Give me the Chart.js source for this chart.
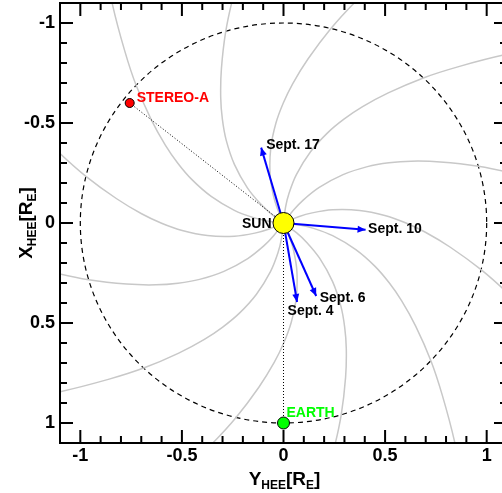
<!DOCTYPE html>
<html>
<head>
<meta charset="utf-8">
<script src="https://cdn.jsdelivr.net/npm/chart.js@4.4.0/dist/chart.umd.min.js"></script>
<style>
html, body { margin: 0; padding: 0; overflow: hidden; background: #fff; }
#wrap { width: 510px; height: 493px; }
</style>
</head>
<body>
<div id="wrap"><canvas id="myChart" width="510" height="493"></canvas></div>
<script>
// positions in AU, HEE frame: first value is Y_HEE (horizontal), second is X_HEE (vertical, reversed)
const sunPos = [0, 0];
const earthPos = [0, 1];
const stereoPos = [-0.757, -0.6];
const orbitRadius = 1;

// CME directions
const arrowLabels = ['Sept. 17', 'Sept. 10', 'Sept. 6', 'Sept. 4'];
const arrowTipY = [-0.11, 0.404, 0.161, 0.067];
const arrowTipX = [-0.377, 0.034, 0.365, 0.395];

// spiral field lines: angle (deg, counter-clockwise from +Y, screen up) where each crosses 1 AU
const spiralAngles = [16.5, 46.5, 76.5, 106.5, 136.5, 166.5, 196.5, 226.5, 256.5, 286.5, 316.5, 346.5];
// shape of one line: radius and its angle ahead of the 1 AU angle (deg)
const spiralR = [0, 0.08, 0.15, 0.25, 0.38, 0.5, 0.6, 0.7, 0.83, 1.0, 1.16, 1.38, 1.6];
const spiralLag = [39.7, 36.2, 33.2, 28.8, 23, 17.8, 13.6, 9.7, 5.1, 0, -4.2, -8.9, -12.9];

const xTicks = [-1, -0.5, 0, 0.5, 1];
const yTicks = [-1, -0.5, 0, 0.5, 1];

const labelFont = 'bold 14px "Liberation Sans", Arial, sans-serif';

function spiralPoints(a0) {
    let pts = [];
    for (let i = 0; i < spiralR.length; i++) {
        let th = (a0 + spiralLag[i]) * Math.PI / 180;
        pts.push({ x: spiralR[i] * Math.cos(th), y: -spiralR[i] * Math.sin(th) });
    }
    return pts;
}

let datasets = [];
datasets.push({ data: [{ x: sunPos[0], y: sunPos[1] }], pointRadius: 10.5, backgroundColor: '#ffff00', borderColor: '#000', borderWidth: 1 });
datasets.push({ data: [{ x: earthPos[0], y: earthPos[1] }], pointRadius: 6, backgroundColor: '#00ff00', borderColor: '#000', borderWidth: 1 });
datasets.push({ data: [{ x: stereoPos[0], y: stereoPos[1] }], pointRadius: 4.5, backgroundColor: '#ff0000', borderColor: '#000', borderWidth: 1 });
const firstArrow = datasets.length;
for (let i = 0; i < arrowLabels.length; i++) {
    datasets.push({
        data: [{ x: sunPos[0], y: sunPos[1] }, { x: arrowTipY[i], y: arrowTipX[i] }],
        showLine: true, borderColor: '#0000ff', borderWidth: 2, pointRadius: 0
    });
}
datasets.push({
    data: [{ x: stereoPos[0], y: stereoPos[1] }, { x: sunPos[0], y: sunPos[1] }],
    showLine: true, borderColor: '#000', borderWidth: 1, borderDash: [1, 2], pointRadius: 0
});
datasets.push({
    data: [{ x: sunPos[0], y: sunPos[1] }, { x: earthPos[0], y: earthPos[1] }],
    showLine: true, borderColor: '#000', borderWidth: 1, borderDash: [1, 2], pointRadius: 0
});
for (let a of spiralAngles) {
    datasets.push({
        data: spiralPoints(a), showLine: true, tension: 0.35,
        borderColor: '#c8c8c8', borderWidth: 1.5, pointRadius: 0
    });
}

function drawParts(ctx, parts, x0, yBase, mainSize, subSize, subDrop) {
    let w = 0;
    for (let p of parts) {
        ctx.font = 'bold ' + (p[1] ? subSize : mainSize) + 'px "Liberation Sans", Arial, sans-serif';
        w += ctx.measureText(p[0]).width;
    }
    let x = x0 - w / 2;
    for (let p of parts) {
        ctx.font = 'bold ' + (p[1] ? subSize : mainSize) + 'px "Liberation Sans", Arial, sans-serif';
        ctx.fillText(p[0], x, yBase + (p[1] ? subDrop : 0));
        x += ctx.measureText(p[0]).width;
    }
}

const decorPlugin = {
    id: 'decor',
    beforeDatasetsDraw(chart) {
        const { ctx, chartArea, scales: { x, y } } = chart;
        ctx.save();
        ctx.beginPath();
        ctx.rect(chartArea.left, chartArea.top, chartArea.width, chartArea.height);
        ctx.clip();
        let cx = x.getPixelForValue(sunPos[0]);
        let cy = y.getPixelForValue(sunPos[1]);
        let rx = Math.abs(x.getPixelForValue(orbitRadius) - cx);
        let ry = Math.abs(y.getPixelForValue(orbitRadius) - cy);
        ctx.setLineDash([5, 4]);
        ctx.lineWidth = 1.2;
        ctx.strokeStyle = '#000';
        ctx.beginPath();
        ctx.ellipse(cx, cy, rx, ry, 0, 0, Math.PI * 2);
        ctx.stroke();
        ctx.restore();
    },
    afterDatasetsDraw(chart) {
        const { ctx, scales: { x, y } } = chart;
        ctx.save();
        // arrow heads
        ctx.fillStyle = '#0000ff';
        for (let i = 0; i < arrowLabels.length; i++) {
            let meta = chart.getDatasetMeta(firstArrow + i);
            let p0 = meta.data[0], p1 = meta.data[1];
            let ang = Math.atan2(p1.y - p0.y, p1.x - p0.x);
            let len = 8, hw = 3.5;
            ctx.beginPath();
            ctx.moveTo(p1.x, p1.y);
            ctx.lineTo(p1.x - len * Math.cos(ang) - hw * Math.sin(ang), p1.y - len * Math.sin(ang) + hw * Math.cos(ang));
            ctx.lineTo(p1.x - len * Math.cos(ang) + hw * Math.sin(ang), p1.y - len * Math.sin(ang) - hw * Math.cos(ang));
            ctx.closePath();
            ctx.fill();
        }
        // labels
        ctx.font = labelFont;
        ctx.textBaseline = 'middle';
        const offsets = [[5, -2], [2.5, -1], [3.5, 2.5], [-9.5, 9.5]];
        ctx.fillStyle = '#000';
        ctx.textAlign = 'left';
        for (let i = 0; i < arrowLabels.length; i++) {
            ctx.fillText(arrowLabels[i], x.getPixelForValue(arrowTipY[i]) + offsets[i][0], y.getPixelForValue(arrowTipX[i]) + offsets[i][1]);
        }
        ctx.textAlign = 'right';
        ctx.fillText('SUN', x.getPixelForValue(sunPos[0]) - 12, y.getPixelForValue(sunPos[1]) + 1);
        ctx.textAlign = 'left';
        ctx.fillStyle = '#ff0000';
        ctx.fillText('STEREO-A', x.getPixelForValue(stereoPos[0]) + 7, y.getPixelForValue(stereoPos[1]) - 5);
        ctx.fillStyle = '#00ff00';
        ctx.fillText('EARTH', x.getPixelForValue(earthPos[0]) + 3, y.getPixelForValue(earthPos[1]) - 10);
        ctx.restore();
    },
    afterDraw(chart) {
        const { ctx, chartArea: ca, scales: { x, y } } = chart;
        ctx.save();
        ctx.strokeStyle = '#000';
        ctx.lineWidth = 2;
        ctx.strokeRect(ca.left, ca.top, ca.right - ca.left, ca.bottom - ca.top);
        ctx.beginPath();
        for (let i = -11; i <= 11; i++) {
            let v = i / 10;
            let len = (i % 5 === 0) ? 13 : 7;
            let px = x.getPixelForValue(v);
            ctx.moveTo(px, ca.bottom); ctx.lineTo(px, ca.bottom - len);
            ctx.moveTo(px, ca.top); ctx.lineTo(px, ca.top + len);
            let py = y.getPixelForValue(v);
            ctx.moveTo(ca.left, py); ctx.lineTo(ca.left + len, py);
            ctx.moveTo(ca.right, py); ctx.lineTo(ca.right - len, py);
        }
        ctx.stroke();
        // axis titles
        ctx.fillStyle = '#000';
        ctx.textAlign = 'left';
        ctx.textBaseline = 'alphabetic';
        const xTitle = [['Y', false], ['HEE', true], ['[R', false], ['E', true], [']', false]];
        const yTitle = [['X', false], ['HEE', true], ['[R', false], ['E', true], [']', false]];
        drawParts(ctx, xTitle, x.getPixelForValue(0) + 1, 485, 19, 12, 4);
        ctx.translate(32, (ca.top + ca.bottom) / 2);
        ctx.rotate(-Math.PI / 2);
        drawParts(ctx, yTitle, 0, 0, 19, 12, 4);
        ctx.restore();
    }
};

const tickFont = { family: '"Liberation Sans", Arial, sans-serif', size: 18, weight: 'bold', lineHeight: 1.2 };

new Chart(document.getElementById('myChart').getContext('2d'), {
    type: 'scatter',
    data: { datasets: datasets },
    options: {
        responsive: false,
        animation: false,
        events: [],
        layout: { autoPadding: false, padding: { top: 3, right: 3, left: 0, bottom: 0 } },
        plugins: { legend: { display: false }, tooltip: { enabled: false } },
        scales: {
            x: {
                type: 'linear', min: -1.1, max: 1.1,
                grid: { display: false, drawTicks: false },
                border: { display: false },
                afterBuildTicks: (s) => { s.ticks = xTicks.map(v => ({ value: v })); },
                afterFit: (s) => { s.height = 50; s.paddingLeft = 0; s.paddingRight = 0; },
                ticks: { font: tickFont, color: '#000', padding: 2, maxRotation: 0, autoSkip: false, callback: (v) => String(v) }
            },
            y: {
                type: 'linear', min: -1.1, max: 1.1, reverse: true,
                grid: { display: false, drawTicks: false },
                border: { display: false },
                afterBuildTicks: (s) => { s.ticks = yTicks.map(v => ({ value: v })); },
                afterFit: (s) => { s.width = 60; s.paddingTop = 0; s.paddingBottom = 0; },
                ticks: { font: tickFont, color: '#000', padding: 5, autoSkip: false, callback: (v) => String(v) }
            }
        }
    },
    plugins: [decorPlugin]
});
</script>
</body>
</html>
